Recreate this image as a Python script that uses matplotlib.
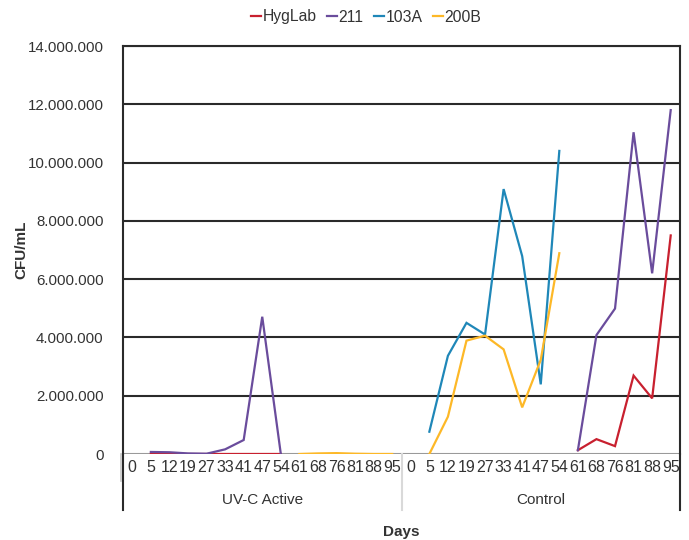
import matplotlib.pyplot as plt
import matplotlib.transforms as mtransforms
import numpy as np

plt.rcParams['font.family'] = ['Liberation Sans', 'DejaVu Sans']

# categories: two groups of sampling days
days = [0, 5, 12, 19, 27, 33, 41, 47, 54, 61, 68, 76, 81, 88, 95]
groups = ["UV-C Active", "Control"]

nan = np.nan
# CFU/mL per category (15 UV-C Active + 15 Control), nan = no point
hyglab = [nan, 0, 0, 0, 0, 0, 0, 0, 0, nan, nan, nan, nan, nan, nan,
          nan, nan, nan, nan, nan, nan, nan, nan, nan,
          130000, 510000, 270000, 2690000, 1910000, 7500000]
s211 = [nan, 70000, 60000, 20000, 10000, 160000, 480000, 4710000, 0,
        nan, nan, nan, nan, nan, nan,
        nan, nan, nan, nan, nan, nan, nan, nan, nan,
        130000, 4080000, 4990000, 11040000, 6200000, 11800000]
s103a = [nan] * 15 + [nan, 765000, 3370000, 4500000, 4100000, 9090000,
                      6790000, 2390000, 10400000,
                      nan, nan, nan, nan, nan, nan]
s200b = [nan] * 9 + [0, 20000, 30000, 10000, 0, 0] + \
        [nan, 0, 1280000, 3890000, 4060000, 3590000, 1600000, 3230000,
         6890000, nan, nan, nan, nan, nan, nan]

series = [("HygLab", hyglab, "#C8202F"),
          ("211", s211, "#6A4C9C"),
          ("103A", s103a, "#1F87B8"),
          ("200B", s200b, "#FDB827")]

n = len(days) * len(groups)
x = np.arange(n) + 0.5

fig = plt.figure(figsize=(6.89, 5.4), dpi=100)
ax = fig.add_axes([123 / 689, 1 - 454 / 540, 557 / 689, 408 / 540])

for name, vals, col in series:
    ax.plot(x, np.array(vals, dtype=float), color=col, lw=1.6, label=name,
            solid_joinstyle='miter')

ax.set_xlim(0, n)
ax.set_ylim(0, 14000000)
yt = np.arange(0, 14000001, 2000000)
ax.set_yticks(yt)
ax.set_yticklabels(["0"] + ["{:,}".format(v).replace(",", ".") for v in yt[1:]],
                   fontsize=10.8, color="#333333")
ax.tick_params(axis='y', length=0, pad=14)
ax.set_xticks([])
for v in yt[1:]:
    ax.axhline(v, color="#2a2a2a", lw=1.5, zorder=0)
ax.axhline(0, color="#9a9a9a", lw=1.5, zorder=0)

ax.spines["bottom"].set_visible(False)
for s in ["left", "right", "top"]:
    ax.spines[s].set_color("#2a2a2a")
    ax.spines[s].set_linewidth(1.5)

# category axis below the plot
trans = mtransforms.blended_transform_factory(ax.transData, ax.transAxes)
for g in range(len(groups)):
    for i, d in enumerate(days):
        ax.text(g * len(days) + i + 0.5, -0.032, str(d), transform=trans,
                ha='center', va='center', fontsize=11.5, color="#333333")
    ax.text(g * len(days) + len(days) / 2, -0.113, groups[g], transform=trans,
            ha='center', va='center', fontsize=11, color="#333333")

ax.plot([0, 0], [0, -0.137], transform=trans, color="#2a2a2a", lw=1.5,
        clip_on=False)
ax.plot([n, n], [0, -0.137], transform=trans, color="#2a2a2a", lw=1.5,
        clip_on=False)
ax.plot([len(days), len(days)], [0, -0.137], transform=trans,
        color="#d9d9d9", lw=1.5, clip_on=False)
ax.plot([-0.003, -0.003], [0, -0.065], transform=ax.transAxes,
        color="#c8c8c8", lw=1.2, clip_on=False)

fig.text(401 / 689, 1 - 532 / 540, "Days", fontsize=11, fontweight='bold',
         color="#333333", ha='center', va='center')
fig.text(21 / 689, 1 - 250 / 540, "CFU/mL", fontsize=11, fontweight='bold',
         color="#333333", ha='center', va='center', rotation=90)

ax.legend(loc='center', bbox_to_anchor=(366 / 689, 1 - 17 / 540),
          bbox_transform=fig.transFigure, ncol=4, frameon=False,
          fontsize=11.3, handlelength=0.65, handletextpad=0.1,
          columnspacing=0.65, labelcolor="#333333")

fig.savefig("out.png", dpi=100)
